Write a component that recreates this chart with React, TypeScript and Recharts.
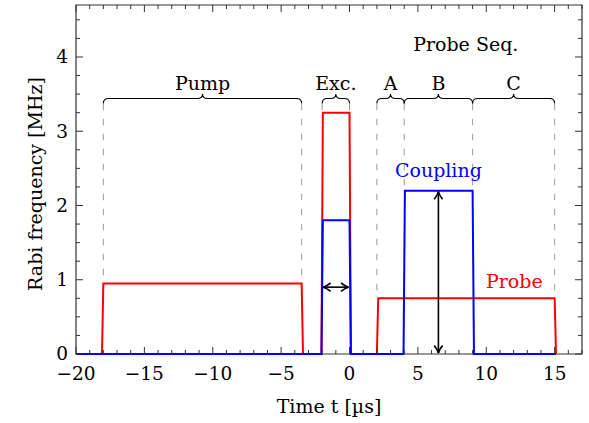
import React from "react";
import {
  LineChart,
  Line,
  XAxis,
  YAxis,
  Label,
  ReferenceArea,
  ReferenceLine,
  ReferenceDot,
} from "recharts";

// pulse sequence, time in µs, Rabi frequency in MHz
const probeT = [-20, -18.1, -18, -3.5, -3.4, -2.05, -1.95, 0, 0.1, 2.0, 2.1, 15, 15.1];
const probeV = [0, 0, 0.95, 0.95, 0, 0, 3.25, 3.25, 0, 0, 0.75, 0.75, 0];
const couplingT = [-20, -2.05, -1.95, 0, 0.1, 3.95, 4.05, 9, 9.1, 15.1];
const couplingV = [0, 0, 1.8, 1.8, 0, 0, 2.2, 2.2, 0, 0];

// braces over the sequence stages
const braceNames = ["Pump", "Exc.", "A", "B", "C"];
const braceFrom = [-18, -2, 2, 4, 9];
const braceTo = [-3.5, 0, 4, 9, 15];
const braceLevel = 3.44;

// dashed guides from brace ends down to the pulse tops
const guideT = [-18, -3.5, -2, 0, 2, 4, 9, 15];
const guideLow = [0.95, 0.95, 3.25, 3.25, 0.75, 2.2, 2.2, 0.75];
const guideHigh = 3.37;

// free text
const noteText = ["Coupling", "Probe", "Probe Seq."];
const noteT = [6.5, 12.05, 8.5];
const noteV = [2.39, 0.89, 4.08];

// double arrows: [t1, v1, t2, v2]
const arrowA = [-2, 0.9, 0, 0.9];
const arrowB = [6.5, 0, 6.5, 2.2];

const xTicks = Array.from({ length: 38 }, (_, i) => i - 20);
const yTicks = Array.from({ length: 19 }, (_, i) => i * 0.25);

const probeData = probeT.map((t, i) => ({ t, v: probeV[i] }));
const couplingData = couplingT.map((t, i) => ({ t, v: couplingV[i] }));

const FONT = "'DejaVu Serif', serif";
const AXIS = "#333";
const PLOT = { left: 76, right: 582, top: 5, bottom: 354 };
const noteColor = ["#0000ff", "#ff0000", "#000000"];

const fmt = (v: number) => (v < 0 ? "\u2212" + Math.abs(v) : String(v));

function XTick(props: any) {
  const { x, payload } = props;
  const v = payload.value;
  const major = v % 5 === 0;
  const len = major ? 7 : 4;
  return (
    <g>
      <line x1={x} x2={x} y1={PLOT.bottom} y2={PLOT.bottom - len} stroke={AXIS} />
      <line x1={x} x2={x} y1={PLOT.top} y2={PLOT.top + len} stroke={AXIS} />
      {major && (
        <text x={x} y={380} textAnchor="middle" fontFamily={FONT} fontSize={18.5} fill="#000">
          {fmt(v)}
        </text>
      )}
    </g>
  );
}

function YTick(props: any) {
  const { y, payload } = props;
  const v = payload.value;
  const major = Number.isInteger(v);
  const len = major ? 7 : 4;
  return (
    <g>
      <line x1={PLOT.left} x2={PLOT.left + len} y1={y} y2={y} stroke={AXIS} />
      <line x1={PLOT.right} x2={PLOT.right - len} y1={y} y2={y} stroke={AXIS} />
      {major && (
        <text x={68} y={y} dy="0.34em" textAnchor="end" fontFamily={FONT} fontSize={18.5} fill="#000">
          {fmt(v)}
        </text>
      )}
    </g>
  );
}

function Brace(name: string) {
  return (p: any) => {
    const { x1, x2, y1 } = p;
    const y = y1;
    const m = (x1 + x2) / 2;
    const d = [
      `M ${x1} ${y + 5}`,
      `C ${x1} ${y + 1.5} ${x1 + 1.5} ${y} ${x1 + 5} ${y}`,
      `L ${m - 5} ${y}`,
      `C ${m - 1.5} ${y} ${m} ${y - 1.5} ${m} ${y - 4.5}`,
      `C ${m} ${y - 1.5} ${m + 1.5} ${y} ${m + 5} ${y}`,
      `L ${x2 - 5} ${y}`,
      `C ${x2 - 1.5} ${y} ${x2} ${y + 1.5} ${x2} ${y + 5}`,
    ].join(" ");
    return (
      <g>
        <path d={d} fill="none" stroke="#000" strokeWidth={1.1} />
        <text x={m} y={y - 9} textAnchor="middle" fontFamily={FONT} fontSize={19} fill="#000">
          {name}
        </text>
      </g>
    );
  };
}

function head(px: number, py: number, dx: number, dy: number) {
  const nx = -dy;
  const ny = dx;
  const L = 7.5;
  const W = 4.2;
  const b1 = [px - L * dx + W * nx, py - L * dy + W * ny];
  const b2 = [px - L * dx - W * nx, py - L * dy - W * ny];
  const c1 = [px - 3 * dx + 0.6 * nx, py - 3 * dy + 0.6 * ny];
  const c2 = [px - 3 * dx - 0.6 * nx, py - 3 * dy - 0.6 * ny];
  return `M ${b1[0]} ${b1[1]} Q ${c1[0]} ${c1[1]} ${px} ${py} Q ${c2[0]} ${c2[1]} ${b2[0]} ${b2[1]}`;
}

function DoubleArrow(p: any) {
  const { x1, y1, x2, y2 } = p;
  const len = Math.hypot(x2 - x1, y2 - y1);
  const dx = (x2 - x1) / len;
  const dy = (y2 - y1) / len;
  const ax = x1 + dx;
  const ay = y1 + dy;
  const bx = x2 - dx;
  const by = y2 - dy;
  return (
    <g fill="none" stroke="#000" strokeWidth={1.6}>
      <line x1={ax} y1={ay} x2={bx} y2={by} />
      <path d={head(bx, by, dx, dy)} />
      <path d={head(ax, ay, -dx, -dy)} />
    </g>
  );
}

export default function App() {
  return (
    <div style={{ position: "absolute", left: 0, top: 0, width: 589, height: 423, background: "#fff" }}>
      <LineChart width={589} height={423} margin={{ top: 5, right: 7, bottom: 0, left: 0 }}>
        <XAxis
          type="number"
          dataKey="t"
          domain={[-20, 17]}
          ticks={xTicks}
          interval={0}
          tick={(p: any) => <XTick {...p} />}
          tickLine={false}
          axisLine={false}
          height={69}
        >
          <Label
            content={() => (
              <text x={329} y={413} textAnchor="middle" fontFamily={FONT} fontSize={19} fill="#000">
                Time t [µs]
              </text>
            )}
          />
        </XAxis>
        <YAxis
          type="number"
          domain={[0, 4.7]}
          ticks={yTicks}
          interval={0}
          tick={(p: any) => <YTick {...p} />}
          tickLine={false}
          axisLine={false}
          width={76}
        >
          <Label
            content={() => (
              <text
                x={42}
                y={184}
                transform="rotate(-90 42 184)"
                textAnchor="middle"
                fontFamily={FONT}
                fontSize={19}
                fill="#000"
              >
                Rabi frequency [MHz]
              </text>
            )}
          />
        </YAxis>

        {guideT.map((t, i) => (
          <ReferenceLine
            key={"g" + i}
            segment={[
              { x: t, y: guideHigh },
              { x: t, y: guideLow[i] },
            ]}
            stroke="#9a9a9a"
            strokeWidth={1}
            strokeDasharray="6.5 8.5"
          />
        ))}

        {braceNames.map((n, i) => (
          <ReferenceLine
            key={"b" + i}
            segment={[
              { x: braceFrom[i], y: braceLevel },
              { x: braceTo[i], y: braceLevel },
            ]}
            shape={Brace(n)}
          />
        ))}

        <Line
          data={probeData}
          dataKey="v"
          type="linear"
          stroke="#ff0000"
          strokeWidth={2}
          dot={false}
          isAnimationActive={false}
        />
        <Line
          data={couplingData}
          dataKey="v"
          type="linear"
          stroke="#0000ff"
          strokeWidth={2}
          dot={false}
          isAnimationActive={false}
        />

        <ReferenceArea x1={-20} x2={17} y1={0} y2={4.7} fill="none" stroke={AXIS} strokeWidth={1.2} />

        {[arrowA, arrowB].map((a, i) => (
          <ReferenceLine
            key={"a" + i}
            segment={[
              { x: a[0], y: a[1] },
              { x: a[2], y: a[3] },
            ]}
            shape={DoubleArrow}
          />
        ))}

        {noteText.map((s, i) => (
          <ReferenceDot
            key={"n" + i}
            x={noteT[i]}
            y={noteV[i]}
            r={0}
            shape={(p: any) => (
              <text x={p.cx} y={p.cy} textAnchor="middle" fontFamily={FONT} fontSize={19} fill={noteColor[i]}>
                {s}
              </text>
            )}
          />
        ))}
      </LineChart>
    </div>
  );
}
